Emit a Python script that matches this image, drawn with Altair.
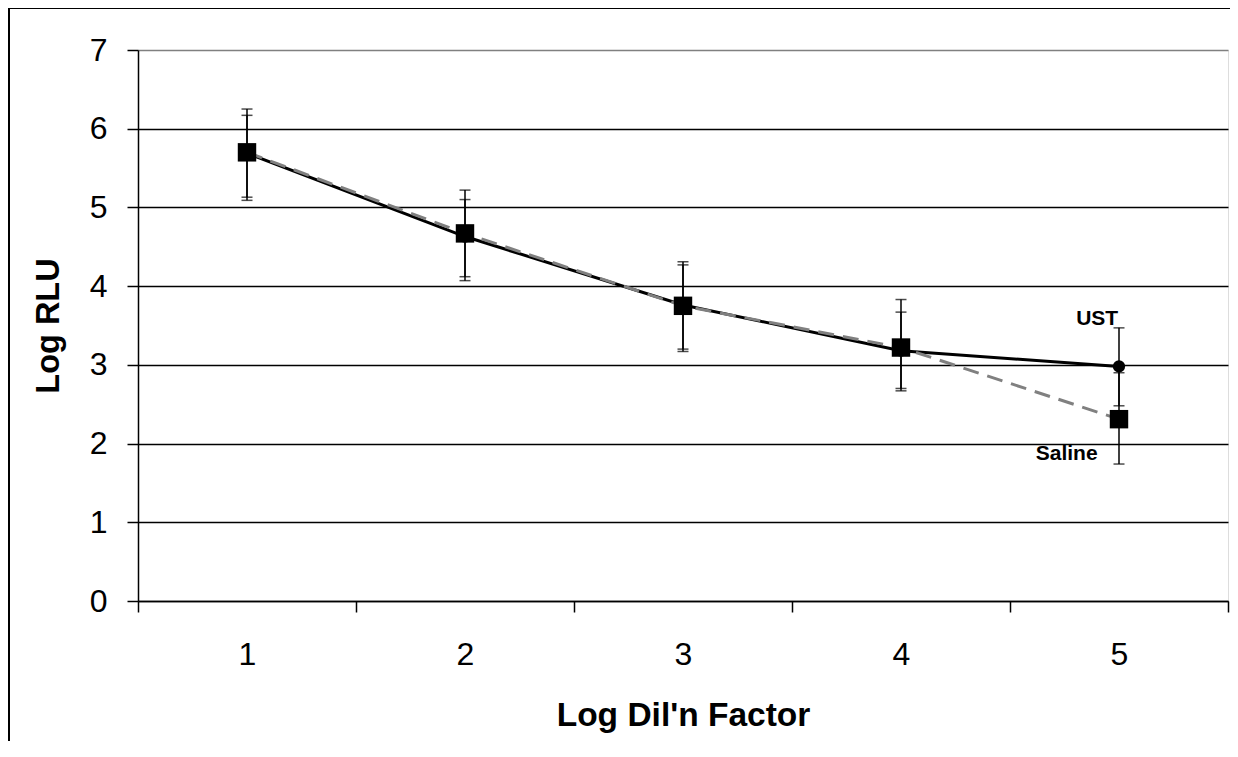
import altair as alt
import pandas as pd

# ---- data ----
dil = [1, 2, 3, 4, 5]
ust = [5.69, 4.63, 3.76, 3.18, 2.98]
ust_lo = [5.09, 4.07, 3.17, 2.67, 2.48]
ust_hi = [6.17, 5.10, 4.27, 3.67, 3.47]
saline = [5.70, 4.67, 3.75, 3.22, 2.31]
saline_lo = [5.13, 4.12, 3.20, 2.70, 1.74]
saline_hi = [6.25, 5.22, 4.31, 3.83, 2.90]
x_tick_values = [0.5, 1, 1.5, 2, 2.5, 3, 3.5, 4, 4.5, 5, 5.5]
y_tick_values = [0, 1, 2, 3, 4, 5, 6, 7]
ann_text = ["UST", "Saline"]
ann_x = [4.9, 4.76]
ann_y = [3.51, 1.79]

df_ust = pd.DataFrame({"x": dil, "y": ust, "lo": ust_lo, "hi": ust_hi})
df_sal = pd.DataFrame({"x": dil, "y": saline, "lo": saline_lo, "hi": saline_hi})
df_ann = pd.DataFrame({"t": ann_text, "x": ann_x, "y": ann_y})

FONT = "Liberation Sans"

xs = alt.Scale(domain=[0.5, 5.5], nice=False, zero=False)
ys = alt.Scale(domain=[0, 7], nice=False, zero=True)

xaxis = alt.Axis(
    title="Log Dil'n Factor",
    values=x_tick_values,
    labelExpr="datum.value % 1 === 0 ? format(datum.value, 'd') : ''",
    tickOpacity={"condition": {"test": "datum.value % 1 === 0", "value": 0}, "value": 1},
    grid=False,
    tickSize=11, tickColor="black", tickWidth=1.5,
    domainColor="black", domainWidth=1.5,
    labelFont=FONT, labelFontSize=32, labelColor="black", labelPadding=27,
    titleFont=FONT, titleFontSize=33.5, titleFontWeight="bold", titleColor="black",
    titlePadding=29,
    labelFlush=False,
)
yaxis = alt.Axis(
    title="Log RLU",
    values=y_tick_values,
    grid=True,
    gridColor={"condition": {"test": "datum.value === 7", "value": "#808080"}, "value": "black"},
    gridWidth=1.3,
    tickSize=11, tickColor="black", tickWidth=1.5,
    domainColor="black", domainWidth=1.5,
    labelFont=FONT, labelFontSize=32, labelColor="black", labelPadding=20,
    titleFont=FONT, titleFontSize=32.5, titleFontWeight="bold", titleColor="black",
    titlePadding=24,
)

X = alt.X("x:Q", scale=xs, axis=xaxis)
Y = alt.Y("y:Q", scale=ys, axis=yaxis)

border = alt.Chart(pd.DataFrame({"a": [0]})).mark_rect(
    fill=None, stroke="black", strokeWidth=2
).encode(
    x=alt.value(-129), x2=alt.value(1400), y=alt.value(-42), y2=alt.value(900)
)

def errbars(df):
    rule = alt.Chart(df).mark_rule(color="black", strokeWidth=1.5).encode(
        x=X, y=alt.Y("lo:Q", scale=ys, axis=yaxis), y2="hi:Q"
    )
    cap_lo = alt.Chart(df).mark_tick(color="black", orient="horizontal", size=11, thickness=1.5).encode(
        x=X, y=alt.Y("lo:Q", scale=ys, axis=yaxis)
    )
    cap_hi = alt.Chart(df).mark_tick(color="black", orient="horizontal", size=11, thickness=1.5).encode(
        x=X, y=alt.Y("hi:Q", scale=ys, axis=yaxis)
    )
    return rule + cap_lo + cap_hi

ust_line = alt.Chart(df_ust).mark_line(color="black", strokeWidth=3).encode(x=X, y=Y)
sal_line = alt.Chart(df_sal).mark_line(color="#808080", strokeWidth=3, strokeDash=[16, 9]).encode(x=X, y=Y)
ust_pts = alt.Chart(df_ust).mark_point(shape="circle", filled=True, color="black", size=150, opacity=1).encode(x=X, y=Y)
sal_pts = alt.Chart(df_sal).mark_point(shape="square", filled=True, color="black", size=340, opacity=1).encode(x=X, y=Y)

ann = alt.Chart(df_ann).mark_text(
    font=FONT, fontSize=21, fontWeight="bold", color="black", baseline="alphabetic", align="center"
).encode(x=X, y=Y, text="t:N")

chart = alt.layer(
    border, errbars(df_ust), errbars(df_sal), ust_line, sal_line, ust_pts, sal_pts, ann
).properties(
    width=1090, height=551,
    autosize=alt.AutoSizeParams(type="none"),
    padding={"left": 130, "top": 42, "right": 2, "bottom": 140},
).configure_view(
    stroke="#808080", strokeWidth=1.5
).configure(background="white")

chart.save("out.html", embed_options={"renderer": "svg", "actions": False})
